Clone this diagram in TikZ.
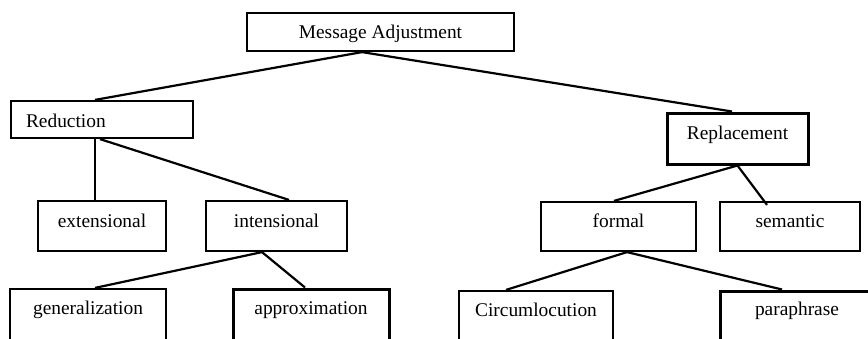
\documentclass[tikz,border=0pt]{standalone}
\usepackage{fontspec}
\setmainfont{Liberation Serif}
\begin{document}
\begin{tikzpicture}[x=1pt,y=-1pt,
  every node/.style={font=\fontsize{19.4}{23}\selectfont},
  bx/.style={draw, line width=2.2pt, inner ysep=0pt, inner xsep=0pt, anchor=base},
  thick box/.style={line width=3pt},
  conn/.style={line width=2.2pt}]
\useasboundingbox (0,0) rectangle (868,338);
\clip (0,0) rectangle (868,338);
% boxes
\node[bx, minimum width=267pt, text height=25.5pt, text depth=12.5pt] (ma) at (380.5,38.5) {Message Adjustment};
\node[bx, inner xsep=15pt, text width=152pt, align=left, text height=26pt, text depth=11pt] (red) at (102,127) {Reduction};
\node[bx, thick box, minimum width=141pt, text height=26pt, text depth=25pt] (rep) at (737.5,139) {Replacement};
\node[bx, minimum width=128pt, text height=26pt, text depth=24pt] (ext) at (102,227) {extensional};
\node[bx, minimum width=141pt, text height=26pt, text depth=24pt] (int) at (276.5,227) {intensional};
\node[bx, minimum width=155pt, text height=25pt, text depth=24pt] (for) at (618.5,227) {formal};
\node[bx, minimum width=140pt, text height=25pt, text depth=24pt] (sem) at (790,227) {semantic};
\node[bx, minimum width=156pt, text height=25pt, text depth=60pt] (gen) at (88,314) {generalization};
\node[bx, thick box, minimum width=156pt, text height=25pt, text depth=60pt] (app) at (311,314) {approximation};
\node[bx, minimum width=154pt, text height=25.5pt, text depth=60pt] (cir) at (536,316.5) {Circumlocution};
\node[bx, thick box, minimum width=154pt, text height=24pt, text depth=60pt] (par) at (797,315) {paraphrase};
% connectors
\draw[conn] ([xshift=-18.5pt]ma.south) -- ([xshift=-7pt]red.north);
\draw[conn] ([xshift=-18.5pt]ma.south) -- ([xshift=-5.5pt]rep.north);
\draw[conn] ([xshift=-7pt]red.south) -- ([xshift=-7pt]ext.north);
\draw[conn] ([xshift=-2pt]red.south) -- ([xshift=12.5pt]int.north);
\draw[conn] ([xshift=-14.5pt]int.south) -- ([xshift=7pt]gen.north);
\draw[conn] ([xshift=-14.5pt]int.south) -- ([xshift=-6pt]app.north);
\draw[conn] (rep.south) -- ([xshift=-4.5pt]for.north);
\draw[conn] (rep.south) -- ([xshift=-23pt,yshift=-4pt]sem.north);
\draw[conn] ([xshift=8.5pt]for.south) -- ([xshift=-30pt]cir.north);
\draw[conn] ([xshift=8.5pt]for.south) -- ([xshift=-15pt]par.north);
\end{tikzpicture}
\end{document}
